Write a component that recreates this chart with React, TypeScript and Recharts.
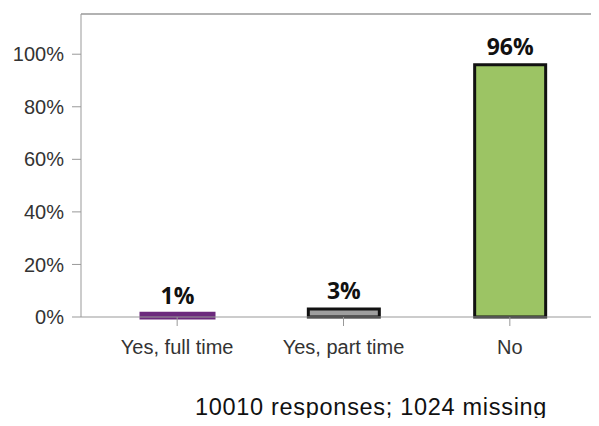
import React from 'react';
import { Bar, BarChart, Cell, LabelList, ReferenceLine, XAxis, YAxis } from 'recharts';

const categories = ['Yes, full time', 'Yes, part time', 'No'];
const shares = [1, 3, 96];
const fills = ['#6c2a7d', '#9e9e9e', '#9cc464'];
const strokes = ['#6c2a7d', '#111111', '#111111'];
const strokeWidths = [5, 3, 3];
const yTicks = [0, 20, 40, 60, 80, 100];
const yMax = 115.3;
const footer = '10010 responses; 1024 missing';

const data = categories.map((name, i) => ({ name, value: shares[i] }));

const tickFont = { fill: '#333333', fontSize: 20, fontFamily: 'Liberation Sans, Arial, sans-serif' };

export default function App() {
  return (
    <div style={{ position: 'relative', width: 599, height: 426, margin: -8, background: '#fff', overflow: 'hidden' }}>
      <BarChart
        width={599}
        height={426}
        data={data}
        margin={{ top: 14, right: 0, bottom: 69, left: 0 }}
        barCategoryGap={0}
      >
        <XAxis
          dataKey="name"
          padding={{ left: 13, right: 6 }}
          height={40}
          stroke="#999999"
          tickSize={9}
          tickMargin={14}
          tick={tickFont}
        />
        <YAxis
          width={81}
          domain={[0, yMax]}
          ticks={yTicks}
          stroke="#999999"
          tickSize={9}
          tickMargin={8}
          tickFormatter={(v: number) => `${v}%`}
          tick={tickFont}
        />
        <ReferenceLine y={yMax} stroke="#999999" strokeWidth={1.5} />
        <Bar dataKey="value" barSize={71} isAnimationActive={false}>
          {data.map((d, i) => (
            <Cell key={d.name} fill={fills[i]} stroke={strokes[i]} strokeWidth={strokeWidths[i]} />
          ))}
          <LabelList
            dataKey="value"
            position="top"
            offset={10}
            formatter={(v: number) => `${Math.round(v)}%`}
            style={{ fill: '#111111', fontSize: 23, fontWeight: 700, fontFamily: 'Open Sans, sans-serif' }}
          />
        </Bar>
      </BarChart>
      <div
        style={{
          position: 'absolute',
          left: 195,
          top: 393,
          lineHeight: '28px',
          fontSize: 23.5,
          letterSpacing: 0.7,
          color: '#111111',
          fontFamily: 'Liberation Sans, Arial, sans-serif',
          whiteSpace: 'nowrap',
        }}
      >
        {footer}
      </div>
    </div>
  );
}
